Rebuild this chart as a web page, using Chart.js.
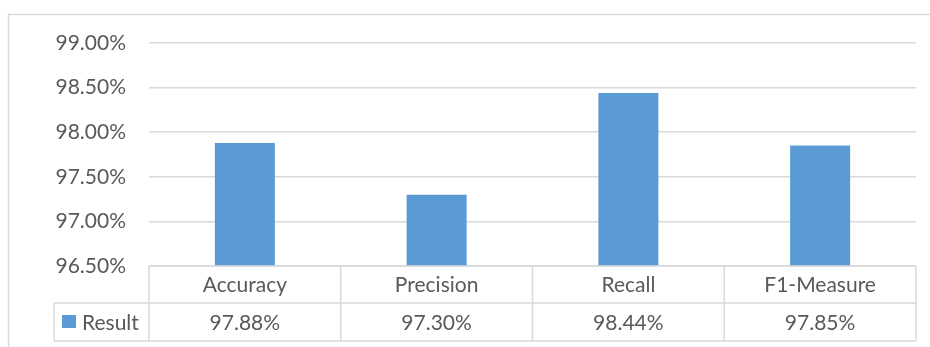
<!DOCTYPE html>
<html>
<head>
<meta charset="utf-8">
<script src="https://cdn.jsdelivr.net/npm/chart.js@4/dist/chart.umd.min.js"></script>
<style>
  html, body { margin: 0; padding: 0; background: #fff; }
</style>
</head>
<body>
<canvas id="chart" width="930" height="347"></canvas>
<script>
var categories = ['Accuracy', 'Precision', 'Recall', 'F1-Measure'];
var results = [97.88, 97.30, 98.44, 97.85];
var seriesName = 'Result';
var yMin = 96.5, yMax = 99, yStep = 0.5;

var barColor = '#5b9bd5',
    lineColor = '#d9d9d9',
    textColor = '#595959',
    fontFamily = 'Lato, "Open Sans", sans-serif',
    fontSize = 21;

// excel style outer border (top + left only)
var frame = {
  id: 'frame',
  beforeDraw: function (chart) {
    var ctx = chart.ctx;
    ctx.save();
    ctx.strokeStyle = lineColor;
    ctx.lineWidth = 1.5;
    ctx.beginPath();
    ctx.moveTo(8.5, 347);
    ctx.lineTo(8.5, 14.5);
    ctx.lineTo(930, 14.5);
    ctx.stroke();
    ctx.restore();
  }
};

// data table under the plot
var dataTable = {
  id: 'dataTable',
  afterDraw: function (chart) {
    var ctx = chart.ctx, x = chart.scales.x, area = chart.chartArea;
    var top = area.bottom, mid = top + 37, bottom = mid + 38, legendLeft = 54;
    var half = (x.getPixelForValue(1) - x.getPixelForValue(0)) / 2;
    ctx.save();
    ctx.strokeStyle = lineColor;
    ctx.lineWidth = 1.5;
    ctx.beginPath();
    ctx.moveTo(area.left, top); ctx.lineTo(area.right, top);
    ctx.moveTo(legendLeft, mid); ctx.lineTo(area.right, mid);
    ctx.moveTo(legendLeft, bottom); ctx.lineTo(area.right, bottom);
    ctx.moveTo(legendLeft, mid); ctx.lineTo(legendLeft, bottom);
    ctx.moveTo(area.left, top); ctx.lineTo(area.left, bottom);
    categories.forEach(function (c, i) {
      var r = x.getPixelForValue(i) + half;
      ctx.moveTo(r, top); ctx.lineTo(r, bottom);
    });
    ctx.stroke();

    ctx.fillStyle = textColor;
    ctx.font = fontSize + 'px ' + fontFamily;
    ctx.textAlign = 'center';
    ctx.textBaseline = 'middle';
    categories.forEach(function (c, i) {
      var cx = x.getPixelForValue(i);
      ctx.fillText(c, cx, (top + mid) / 2 + 1);
      ctx.fillText(results[i].toFixed(2) + '%', cx, (mid + bottom) / 2 + 1);
    });

    ctx.fillStyle = barColor;
    ctx.fillRect(62, 315, 14, 13);
    ctx.fillStyle = textColor;
    ctx.textAlign = 'left';
    ctx.fillText(seriesName, 82, (mid + bottom) / 2 + 1);
    ctx.restore();
  }
};

new Chart(document.getElementById('chart'), {
  type: 'bar',
  data: {
    labels: categories,
    datasets: [{
      label: seriesName,
      data: results,
      backgroundColor: barColor,
      borderWidth: 0,
      barPercentage: 0.313,
      categoryPercentage: 1
    }]
  },
  options: {
    responsive: false,
    animation: false,
    layout: { padding: { top: 43, left: 0, right: 14, bottom: 6 } },
    plugins: { legend: { display: false }, tooltip: { enabled: false } },
    scales: {
      x: {
        grid: { display: false },
        border: { display: false },
        ticks: { display: false },
        afterFit: function (scale) { scale.height = 75; }
      },
      y: {
        min: yMin,
        max: yMax,
        ticks: {
          stepSize: yStep,
          padding: 23,
          color: textColor,
          font: { family: fontFamily, size: fontSize },
          callback: function (v) { return v.toFixed(2) + '%'; }
        },
        grid: { color: lineColor, lineWidth: 1.5, drawTicks: false },
        border: { display: false },
        afterFit: function (scale) { scale.width = 149; }
      }
    }
  },
  plugins: [frame, dataTable]
});
</script>
</body>
</html>
